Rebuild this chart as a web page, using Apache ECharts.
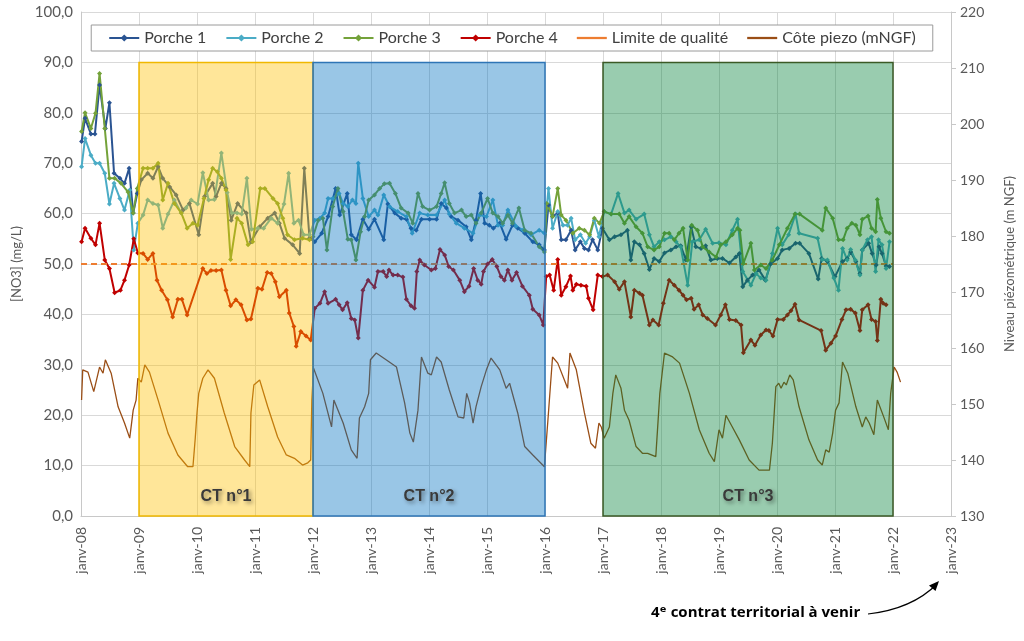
<!DOCTYPE html>
<html><head><meta charset="utf-8">
<script src="https://cdn.jsdelivr.net/npm/echarts@6/dist/echarts.min.js"></script>
<style>html,body{margin:0;padding:0;background:#fff}#c{width:1024px;height:641px}</style>
</head><body><div id="c"></div>
<script>
// ---- data (x = decimal year) ----
const years = [2008,2009,2010,2011,2012,2013,2014,2015,2016,2017,2018,2019,2020,2021,2022,2023];
const yearLabels = ['janv-08','janv-09','janv-10','janv-11','janv-12','janv-13','janv-14','janv-15','janv-16','janv-17','janv-18','janv-19','janv-20','janv-21','janv-22','janv-23'];
const seriesNames = ['Porche 1','Porche 2','Porche 3','Porche 4','Limite de qualité','Côte piezo (mNGF)'];

const porche1 = [[2008.01,74.3],[2008.07,78.9],[2008.17,75.8],[2008.24,75.8],[2008.32,85.5],[2008.42,76.9],[2008.49,82.0],[2008.57,68.0],[2008.67,67.0],[2008.75,66.0],[2008.83,69.0],[2008.90,60.1],[2008.97,64.0],
[2009.04,66.7],[2009.15,68.0],[2009.24,67.0],[2009.33,69.3],[2009.41,67.0],[2009.53,65.3],[2009.64,63.7],[2009.76,60.7],[2009.87,62.0],[2010.03,55.8],[2010.13,63.4],[2010.27,66.0],[2010.33,63.4],[2010.42,66.0],[2010.50,65.0],[2010.59,58.7],[2010.70,62.0],[2010.85,60.1],[2010.93,54.4],[2011.08,57.4],[2011.22,59.1],[2011.34,60.1],[2011.42,58.1],[2011.51,55.1],[2011.65,53.8],[2011.77,52.1],[2011.85,69.0],[2011.94,55.1],
[2012.03,54.4],[2012.15,56.1],[2012.26,59.4],[2012.39,65.0],[2012.46,59.7],[2012.59,64.0],[2012.66,55.8],[2012.75,54.8],[2012.86,58.9],[2012.96,56.9],[2013.06,58.9],[2013.22,54.8],[2013.29,61.9],[2013.41,60.1],[2013.52,59.1],[2013.61,58.9],[2013.69,57.1],[2013.78,56.7],[2013.87,58.9],[2014.01,58.9],[2014.13,58.9],[2014.21,62.0],[2014.30,61.1],[2014.38,59.4],[2014.50,58.7],[2014.64,57.4],[2014.73,54.8],[2014.81,58.7],[2014.89,64.0],[2014.96,58.1],[2015.04,57.7],[2015.11,57.1],[2015.22,58.1],[2015.33,54.9],[2015.44,57.7],[2015.53,57.1],[2015.65,56.1],[2015.79,54.4],[2015.90,53.8],[2015.99,52.8],
[2016.06,61.7],[2016.13,59.4],[2016.22,60.1],[2016.28,54.8],[2016.36,54.8],[2016.45,56.7],[2016.52,52.8],[2016.61,54.4],[2016.68,53.1],[2016.75,52.8],[2016.82,54.8],[2016.91,52.8],[2016.99,57.1],
[2017.11,54.8],[2017.20,55.4],[2017.31,55.8],[2017.42,56.7],[2017.48,50.8],[2017.54,54.4],[2017.63,53.8],[2017.71,52.1],[2017.80,48.9],[2017.88,51.1],[2017.97,50.5],[2018.06,52.2],[2018.17,52.8],[2018.26,53.4],[2018.34,53.6],[2018.43,50.8],[2018.52,57.4],[2018.60,53.4],[2018.69,53.1],[2018.77,53.6],[2018.86,50.8],[2018.97,51.1],[2019.06,51.1],[2019.18,50.2],[2019.29,51.4],[2019.35,52.1],[2019.41,45.5],[2019.49,46.8],[2019.58,47.8],[2019.69,48.8],[2019.80,46.8],[2019.89,50.0],[2020.01,51.1],[2020.09,52.8],[2020.21,53.1],[2020.32,54.1],[2020.39,54.1],[2020.55,52.1],[2020.71,47.0],[2020.77,51.1],[2020.87,50.5],[2021.00,47.5],[2021.13,50.5],[2021.21,51.1],[2021.27,52.4],[2021.36,50.5],[2021.43,48.1],[2021.47,52.8],[2021.58,54.1],[2021.64,52.1],[2021.71,49.8],[2021.76,53.4],[2021.81,52.1],[2021.88,49.6],[2021.94,49.5]];

const porche2 = [[2008.01,69.3],[2008.07,74.9],[2008.17,71.6],[2008.25,70.0],[2008.32,70.0],[2008.41,68.0],[2008.49,61.9],[2008.57,66.0],[2008.67,63.0],[2008.75,60.7],[2008.84,64.7],[2008.91,52.8],[2008.98,58.1],
[2009.07,59.7],[2009.15,62.7],[2009.24,62.0],[2009.33,61.7],[2009.41,57.1],[2009.50,59.9],[2009.61,62.7],[2009.73,60.1],[2009.81,61.1],[2009.90,62.7],[2010.01,61.9],[2010.10,68.1],[2010.20,62.7],[2010.30,62.8],[2010.42,72.0],[2010.52,64.2],[2010.60,60.1],[2010.69,60.1],[2010.77,59.9],[2010.86,67.0],[2010.94,56.9],[2011.05,57.1],[2011.15,57.1],[2011.28,59.1],[2011.39,58.1],[2011.50,61.9],[2011.58,68.0],[2011.67,58.1],[2011.75,58.7],[2011.84,55.8],[2011.94,55.8],
[2012.03,58.7],[2012.12,59.1],[2012.20,60.1],[2012.26,63.0],[2012.34,63.0],[2012.45,64.0],[2012.52,62.0],[2012.60,61.4],[2012.68,62.7],[2012.74,62.0],[2012.78,70.0],[2012.86,63.0],[2012.96,59.4],[2013.06,60.7],[2013.12,59.7],[2013.22,63.7],[2013.32,61.4],[2013.46,60.4],[2013.61,59.4],[2013.71,56.1],[2013.84,60.1],[2013.98,59.7],[2014.13,59.7],[2014.27,62.7],[2014.35,59.9],[2014.47,58.1],[2014.61,57.1],[2014.76,56.1],[2014.87,59.7],[2014.99,59.4],[2015.10,62.7],[2015.19,57.7],[2015.27,57.7],[2015.36,60.7],[2015.50,57.5],[2015.62,56.7],[2015.76,55.8],[2015.90,56.7],[2015.99,56.1],
[2016.06,65.0],[2016.13,57.1],[2016.22,60.4],[2016.31,57.7],[2016.39,57.7],[2016.45,59.1],[2016.52,54.8],[2016.61,55.8],[2016.70,54.1],[2016.77,55.4],[2016.85,58.7],[2016.93,55.4],
[2017.02,60.4],[2017.14,59.9],[2017.26,64.0],[2017.37,60.1],[2017.45,60.7],[2017.57,58.9],[2017.71,59.9],[2017.80,55.8],[2017.88,53.4],[2017.97,54.4],[2018.06,54.8],[2018.17,55.4],[2018.26,54.4],[2018.34,53.4],[2018.46,45.8],[2018.54,54.4],[2018.66,54.8],[2018.77,56.9],[2018.89,54.1],[2019.00,54.2],[2019.12,53.8],[2019.23,56.7],[2019.32,58.9],[2019.41,48.5],[2019.55,45.8],[2019.64,48.1],[2019.72,47.2],[2019.81,46.8],[2019.92,52.1],[2020.01,57.1],[2020.09,53.8],[2020.20,55.8],[2020.32,59.9],[2020.38,56.1],[2020.70,55.1],[2020.78,50.9],[2020.87,50.8],[2020.98,47.2],[2021.06,44.8],[2021.13,53.1],[2021.21,50.8],[2021.27,52.9],[2021.35,50.8],[2021.43,47.8],[2021.47,52.8],[2021.56,54.8],[2021.63,55.4],[2021.70,48.5],[2021.75,54.8],[2021.81,53.8],[2021.88,49.1],[2021.94,54.4]];

const porche3 = [[2008.01,76.3],[2008.07,80.0],[2008.17,76.9],[2008.25,79.9],[2008.32,87.8],[2008.41,76.9],[2008.49,67.0],[2008.58,67.0],[2008.69,66.0],[2008.81,64.3],[2008.90,60.1],[2008.97,65.0],
[2009.07,69.0],[2009.15,69.0],[2009.24,69.0],[2009.33,70.0],[2009.41,62.7],[2009.50,66.0],[2009.61,62.0],[2009.73,60.1],[2009.83,57.1],[2009.93,58.1],[2010.01,57.7],[2010.12,63.0],[2010.20,66.7],[2010.27,69.0],[2010.35,68.3],[2010.42,67.0],[2010.50,64.7],[2010.58,50.9],[2010.69,59.1],[2010.77,58.1],[2010.88,53.8],[2010.96,54.4],[2011.09,65.0],[2011.17,65.0],[2011.31,63.0],[2011.39,62.0],[2011.48,59.1],[2011.56,55.8],[2011.68,54.8],[2011.82,55.1],[2011.94,54.8],
[2012.00,55.4],[2012.09,58.7],[2012.17,59.1],[2012.24,52.8],[2012.34,61.4],[2012.43,65.0],[2012.52,60.4],[2012.60,54.9],[2012.66,54.8],[2012.74,50.8],[2012.82,56.4],[2012.89,59.4],[2012.96,62.7],[2013.06,63.7],[2013.15,65.0],[2013.23,65.9],[2013.32,66.0],[2013.42,64.0],[2013.52,61.1],[2013.64,60.1],[2013.72,58.1],[2013.81,64.0],[2013.89,61.4],[2014.01,60.7],[2014.13,61.4],[2014.21,64.0],[2014.27,66.1],[2014.35,62.0],[2014.44,60.1],[2014.56,60.7],[2014.64,59.4],[2014.73,59.7],[2014.81,58.1],[2014.90,60.1],[2015.01,63.0],[2015.10,60.1],[2015.19,59.4],[2015.27,58.1],[2015.36,59.7],[2015.44,58.1],[2015.55,61.1],[2015.65,56.7],[2015.76,56.1],[2015.90,53.4],[2015.99,52.4],
[2016.03,62.0],[2016.13,59.4],[2016.22,65.0],[2016.28,59.7],[2016.36,58.7],[2016.48,56.1],[2016.59,57.1],[2016.68,56.7],[2016.77,55.8],[2016.85,59.1],[2016.94,58.1],
[2017.02,60.4],[2017.14,59.9],[2017.28,59.9],[2017.37,58.1],[2017.45,59.4],[2017.57,57.4],[2017.68,56.1],[2017.77,53.4],[2017.88,52.8],[2017.97,53.4],[2018.06,56.1],[2018.14,56.1],[2018.23,54.8],[2018.31,56.1],[2018.38,57.1],[2018.46,50.8],[2018.53,57.7],[2018.63,56.7],[2018.72,53.4],[2018.83,52.4],[2018.95,51.4],[2019.03,53.8],[2019.12,54.4],[2019.23,55.8],[2019.32,57.1],[2019.36,56.7],[2019.42,50.1],[2019.55,54.1],[2019.61,48.8],[2019.72,49.8],[2019.81,49.1],[2019.92,50.8],[2020.04,53.8],[2020.18,57.1],[2020.31,59.9],[2020.39,59.9],[2020.78,56.7],[2020.84,61.1],[2020.96,59.1],[2021.06,54.8],[2021.14,54.8],[2021.21,57.1],[2021.29,58.1],[2021.36,57.7],[2021.43,55.8],[2021.47,58.9],[2021.57,59.5],[2021.63,57.1],[2021.70,56.4],[2021.73,62.8],[2021.79,59.1],[2021.88,56.4],[2021.94,56.1]];

const porche4 = [[2008.01,54.4],[2008.07,57.1],[2008.17,55.1],[2008.25,53.8],[2008.32,58.1],[2008.41,50.8],[2008.49,49.1],[2008.58,44.3],[2008.68,44.8],[2008.75,46.8],[2008.83,49.8],[2008.91,55.0],[2008.98,52.2],
[2009.07,52.1],[2009.15,50.9],[2009.24,52.1],[2009.31,46.8],[2009.39,44.8],[2009.49,42.9],[2009.58,39.5],[2009.67,43.0],[2009.74,43.0],[2009.83,39.9],[2010.10,49.1],[2010.17,48.1],[2010.24,48.7],[2010.33,48.7],[2010.42,48.8],[2010.50,44.8],[2010.58,41.7],[2010.67,42.9],[2010.76,41.9],[2010.86,38.9],[2010.93,39.1],[2011.05,45.2],[2011.12,45.0],[2011.21,48.3],[2011.28,48.1],[2011.35,46.5],[2011.42,43.5],[2011.54,44.8],[2011.59,40.3],[2011.67,37.6],[2011.71,33.7],[2011.79,36.6],[2011.88,35.7],[2011.96,34.9],
[2012.03,41.2],[2012.12,42.2],[2012.20,44.5],[2012.26,42.2],[2012.39,43.0],[2012.45,41.9],[2012.51,40.9],[2012.59,42.3],[2012.66,39.2],[2012.72,38.9],[2012.78,35.3],[2012.86,44.8],[2012.95,46.8],[2013.06,45.4],[2013.12,48.5],[2013.21,48.5],[2013.27,47.5],[2013.31,48.8],[2013.38,47.8],[2013.46,47.8],[2013.55,47.4],[2013.61,43.0],[2013.69,41.7],[2013.75,41.2],[2013.79,48.5],[2013.84,50.8],[2013.92,49.8],[2014.04,48.8],[2014.11,49.1],[2014.19,52.9],[2014.27,51.8],[2014.34,49.5],[2014.42,48.8],[2014.53,46.8],[2014.61,44.5],[2014.69,45.6],[2014.77,49.1],[2014.84,46.8],[2014.90,46.0],[2014.94,48.5],[2015.01,50.0],[2015.09,50.9],[2015.17,49.5],[2015.24,47.5],[2015.30,46.8],[2015.36,48.8],[2015.43,46.8],[2015.51,48.3],[2015.61,45.6],[2015.73,43.8],[2015.79,41.0],[2015.90,39.9],[2015.97,37.9],
[2016.02,47.5],[2016.08,47.8],[2016.15,44.8],[2016.22,50.9],[2016.28,43.8],[2016.36,45.5],[2016.44,47.6],[2016.48,44.8],[2016.54,46.0],[2016.62,45.8],[2016.71,45.6],[2016.75,43.2],[2016.83,40.9],[2016.91,47.8],
[2016.99,47.5],[2017.08,47.8],[2017.20,46.5],[2017.28,45.0],[2017.37,46.5],[2017.48,39.5],[2017.54,44.8],[2017.63,44.2],[2017.68,43.8],[2017.80,37.9],[2017.86,38.9],[2017.96,37.9],[2018.04,42.2],[2018.14,46.8],[2018.23,45.8],[2018.31,44.8],[2018.38,43.8],[2018.44,42.9],[2018.52,43.2],[2018.57,41.0],[2018.65,41.9],[2018.72,39.9],[2018.80,39.2],[2018.94,37.9],[2019.03,39.9],[2019.11,41.9],[2019.18,39.0],[2019.29,38.8],[2019.38,37.9],[2019.42,32.4],[2019.55,34.9],[2019.62,33.9],[2019.72,35.9],[2019.81,36.9],[2019.86,36.8],[2019.93,35.7],[2020.01,39.0],[2020.11,39.0],[2020.18,39.9],[2020.24,40.7],[2020.31,42.0],[2020.38,38.9],[2020.76,36.8],[2020.84,32.9],[2020.93,34.3],[2021.01,35.7],[2021.12,39.0],[2021.19,40.9],[2021.27,41.0],[2021.35,40.3],[2021.43,36.8],[2021.47,40.9],[2021.57,41.9],[2021.63,39.0],[2021.70,38.6],[2021.73,34.8],[2021.79,43.0],[2021.83,42.2],[2021.88,41.9]];

const limite = [[2008,50],[2022,50]];

const piezo = [[2008.01,150.7],[2008.03,156.1],[2008.12,155.7],[2008.22,152.2],[2008.32,156.6],[2008.38,155.5],[2008.42,157.9],[2008.52,155.5],[2008.64,149.5],[2008.75,146.6],[2008.84,143.9],[2008.90,148.9],[2008.95,150.7],[2008.98,154.6],[2009.04,153.9],[2009.10,157.0],[2009.18,155.7],[2009.33,150.7],[2009.50,144.8],[2009.67,140.9],[2009.84,138.8],[2009.93,138.8],[2009.97,143.9],[2010.00,148.4],[2010.03,151.9],[2010.10,154.6],[2010.19,156.1],[2010.30,154.6],[2010.47,148.4],[2010.65,142.4],[2010.82,140.0],[2010.91,138.8],[2010.93,148.4],[2010.98,153.4],[2011.08,154.3],[2011.22,149.5],[2011.39,144.1],[2011.54,140.9],[2011.68,140.3],[2011.82,139.1],[2011.91,139.5],[2011.96,140.0],[2011.98,150.7],[2012.01,156.4],[2012.17,151.9],[2012.32,145.9],[2012.36,150.7],[2012.52,146.6],[2012.66,141.8],[2012.76,140.3],[2012.80,147.5],[2012.89,149.5],[2012.96,151.9],[2012.99,157.9],[2013.09,159.1],[2013.26,157.9],[2013.44,156.6],[2013.58,150.2],[2013.67,144.8],[2013.73,143.2],[2013.81,148.9],[2013.87,158.4],[2013.98,155.5],[2014.04,155.2],[2014.13,158.4],[2014.21,157.5],[2014.35,152.5],[2014.50,147.7],[2014.60,147.5],[2014.65,151.9],[2014.70,150.2],[2014.76,146.6],[2014.81,149.5],[2014.90,153.1],[2014.99,156.1],[2015.07,158.2],[2015.22,156.1],[2015.33,152.8],[2015.39,153.7],[2015.53,148.4],[2015.65,142.4],[2015.79,140.9],[2015.99,138.8],[2016.01,139.1],[2016.05,147.1],[2016.13,158.4],[2016.22,157.3],[2016.39,152.8],[2016.43,159.1],[2016.54,156.1],[2016.68,148.4],[2016.79,143.0],[2016.87,142.1],[2016.93,146.6],[2016.97,145.9],[2017.02,143.9],[2017.11,145.9],[2017.17,151.9],[2017.22,155.2],[2017.31,152.8],[2017.37,148.9],[2017.45,147.1],[2017.57,142.4],[2017.68,141.2],[2017.77,141.2],[2017.91,140.6],[2017.98,151.9],[2018.06,159.1],[2018.20,158.4],[2018.32,157.3],[2018.49,151.9],[2018.66,145.4],[2018.83,141.2],[2018.92,139.7],[2019.00,145.4],[2019.06,143.9],[2019.12,148.0],[2019.23,145.9],[2019.35,143.6],[2019.52,140.0],[2019.69,138.2],[2019.87,138.2],[2019.92,143.0],[2019.98,153.1],[2020.03,153.7],[2020.07,152.8],[2020.12,153.9],[2020.16,153.4],[2020.22,155.2],[2020.28,154.3],[2020.38,149.5],[2020.55,143.6],[2020.70,140.0],[2020.78,139.1],[2020.84,141.8],[2020.90,141.4],[2020.96,144.8],[2021.01,148.9],[2021.07,150.2],[2021.13,157.5],[2021.22,155.5],[2021.36,149.5],[2021.47,145.9],[2021.53,147.7],[2021.59,146.6],[2021.67,144.5],[2021.73,150.7],[2021.84,147.7],[2021.92,145.4],[2021.96,151.9],[2022.02,156.6],[2022.07,155.7],[2022.13,153.9]];

// contrats territoriaux
const ctLabels = ['CT n°1','CT n°2','CT n°3'];
const ctStart = [2009, 2012, 2017];
const ctEnd = [2012, 2016, 2022];
const ctTop = [90, 90, 90];

// ---- styles ----
const FONT = 'Lato, "Open Sans", sans-serif';
const colors = ['#2A5492','#4BACC6','#74A23A','#C00000','#ED7D31','#9A4E16'];
const ctFill = ['rgba(255,192,0,0.40)','rgba(0,112,192,0.40)','rgba(0,128,56,0.40)'];
const ctStroke = ['#F0B800','#2E75B6','#3B5A26'];
const plainLineIcon = 'path://M0,0 L40,0 L40,3 L0,3 Z';

const chart = echarts.init(document.getElementById('c'), null, {renderer:'canvas'});

function lineSeries(i, data, extra) {
  return Object.assign({
    name: seriesNames[i], type:'line', data, yAxisIndex:0,
    symbol:'diamond', symbolSize:5, showSymbol:true,
    lineStyle:{color:colors[i], width:2}, itemStyle:{color:colors[i]},
    z:2, animation:false
  }, extra||{});
}

const ctData = ctLabels.map((l,i)=>[ctStart[i], ctEnd[i], ctTop[i], i]);

const legendData = seriesNames.map((n,i)=> i>=4 ? {name:n, icon:plainLineIcon} : {name:n});

const option = {
  animation:false,
  textStyle:{fontFamily:FONT},
  grid:{left:81, right:72, top:12, bottom:125},
  legend:{
    data:legendData, top:25, left:'center',
    backgroundColor:'#fff', borderColor:'#9a9a9a', borderWidth:1,
    padding:[5,17,5,17], itemGap:19, itemWidth:30, itemHeight:9,
    textStyle:{fontSize:16, color:'#404040', fontFamily:FONT}, z:20
  },
  xAxis:{
    type:'value', min:years[0], max:years[years.length-1], interval:1,
    axisLine:{show:true, lineStyle:{color:'#c8c8c8'}},
    axisTick:{show:false},
    splitLine:{show:true, lineStyle:{color:'#d9d9d9'}},
    axisLabel:{rotate:90, margin:11, fontSize:14, color:'#595959', fontFamily:FONT,
      formatter:v=>{const k=years.indexOf(Math.round(v)); return k>=0?yearLabels[k]:'';}}
  },
  yAxis:[{
    type:'value', min:0, max:100, interval:10,
    name:'[NO3] (mg/L)', nameLocation:'middle', nameRotate:90, nameGap:58,
    nameTextStyle:{fontSize:13, color:'#595959'},
    axisLine:{show:true, lineStyle:{color:'#c8c8c8'}},
    axisTick:{show:false},
    splitLine:{show:true, lineStyle:{color:'#d9d9d9'}},
    axisLabel:{fontSize:15, color:'#595959', margin:8, formatter:v=>v.toFixed(1).replace('.',',')}
  },{
    type:'value', min:130, max:220, interval:10, position:'right',
    name:'Niveau piézométrique (m NGF)', nameLocation:'middle', nameRotate:90, nameGap:52,
    nameTextStyle:{fontSize:13, color:'#595959'},
    axisLine:{show:true, lineStyle:{color:'#c8c8c8'}},
    axisTick:{show:true, inside:false, length:5, lineStyle:{color:'#c8c8c8'}},
    splitLine:{show:false},
    axisLabel:{fontSize:14, color:'#595959', margin:9}
  }],
  series:[
    lineSeries(0, porche1),
    lineSeries(1, porche2),
    lineSeries(2, porche3),
    lineSeries(3, porche4),
    lineSeries(4, limite, {symbol:'none', showSymbol:false, lineStyle:{color:colors[4], width:2, type:[6,4]}}),
    lineSeries(5, piezo, {yAxisIndex:1, symbol:'none', showSymbol:false, lineStyle:{color:colors[5], width:1.3}}),
    {
      type:'custom', name:'CT', data:ctData, z:5, silent:true, clip:false,
      encode:{x:[0,1], y:2},
      renderItem:(params, api)=>{
        const i = api.value(3);
        const p0 = api.coord([api.value(0), 0]);
        const p1 = api.coord([api.value(1), api.value(2)]);
        const x = p0[0], y = p1[1], w = p1[0]-p0[0], h = p0[1]-p1[1];
        return {type:'group', children:[
          {type:'rect', shape:{x, y, width:w, height:h},
           style:{fill:ctFill[i], stroke:ctStroke[i], lineWidth:1.5}},
          {type:'text', style:{text:ctLabels[i], x:x+w/2, y:p0[1]-19, align:'center', verticalAlign:'middle',
            font:'bold 16px "Liberation Sans", Arial, sans-serif', fill:'#3a3a3a',
            textShadowColor:'rgba(0,0,0,0.45)', textShadowBlur:4, textShadowOffsetX:2, textShadowOffsetY:2}}
        ]};
      }
    }
  ],
  graphic:[
    {type:'text', left:651, top:605, z:30,
     style:{text:'4ᵉ contrat territorial à venir', font:'bold 15px "Open Sans", "DejaVu Sans", sans-serif', fill:'#000'}},
    {type:'bezierCurve', z:30, shape:{x1:868, y1:614, cpx1:912, cpy1:609, x2:937, y2:584},
     style:{stroke:'#000', lineWidth:1.2, fill:null}},
    {type:'polygon', z:30, shape:{points:[[939,581],[935.5,591],[929,585.5]]}, style:{fill:'#000'}}
  ]
};
chart.setOption(option);
</script>
</body></html>
